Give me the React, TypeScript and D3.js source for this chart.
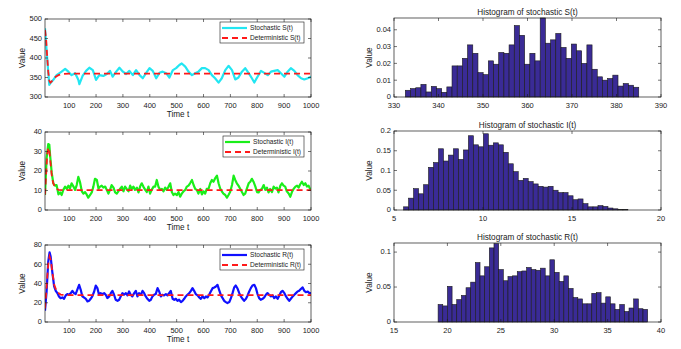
import * as d3 from "d3";

const W = 681;
const H = 349;
const FONT = "'Liberation Sans', Arial, Helvetica, sans-serif";

// ── Stochastic paths, [t, value] ───────────────────────────────
const S_STOCH: [number, number][] = [
  [10, 476], [18, 400], [26, 331], [33, 338], [41, 344], [53, 356], [72, 365], [85, 372],
  [97, 365], [109, 356], [122, 361], [130, 350], [134, 344], [138, 333], [150, 354], [163, 367],
  [175, 375], [188, 369], [200, 344], [212, 356], [227, 354], [240, 359], [252, 367], [262, 352],
  [275, 365], [287, 375], [300, 365], [312, 359], [324, 367], [337, 356], [349, 369], [362, 356],
  [374, 348], [386, 361], [399, 374], [411, 367], [424, 348], [436, 362], [448, 365], [461, 361],
  [473, 350], [486, 369], [498, 374], [510, 382], [519, 386], [532, 378], [544, 365], [557, 356],
  [569, 361], [581, 365], [594, 374], [606, 374], [619, 369], [631, 356], [643, 348], [656, 337],
  [668, 348], [681, 369], [693, 380], [706, 369], [718, 345], [730, 350], [743, 365], [755, 374],
  [768, 361], [780, 348], [789, 337], [801, 352], [814, 367], [826, 362], [839, 356], [851, 365],
  [863, 367], [876, 369], [888, 361], [901, 352], [913, 365], [925, 374], [938, 367], [950, 356],
  [963, 348], [975, 345], [988, 348], [1000, 352],
];

const I_STOCH: [number, number][] = [
  [10, 7.7], [16, 26.5], [22, 33.8], [26, 33.5], [29, 28], [35, 19], [41, 13.7], [47, 12.5],
  [53, 12.8], [60, 8], [66, 9], [72, 7.7], [78, 10.3], [85, 12], [91, 10.8], [97, 12.5],
  [103, 11], [109, 13.7], [116, 12], [122, 10.3], [128, 12.8], [134, 17], [140, 14.5], [147, 9.6],
  [153, 8.4], [159, 9.2], [165, 8], [171, 6.3], [178, 7.7], [184, 9], [190, 12], [196, 16],
  [203, 15.4], [209, 11], [215, 12], [221, 12.5], [227, 11.5], [234, 12], [240, 10.3], [246, 8.4],
  [252, 10.3], [258, 12.8], [265, 11.5], [271, 9], [277, 8.4], [283, 9.6], [289, 10.8], [296, 12],
  [302, 9.6], [308, 12], [314, 10.8], [321, 9.6], [327, 12.5], [333, 10.8], [339, 12], [345, 10.3],
  [352, 11.5], [358, 9], [364, 12], [370, 13.7], [376, 12], [383, 10.3], [389, 9.2], [395, 12],
  [401, 8.4], [407, 10.3], [414, 12], [420, 12], [426, 15.4], [432, 12], [439, 10.3], [445, 10.8],
  [451, 9.6], [457, 11.5], [463, 10.3], [470, 12], [476, 13.7], [482, 9.2], [488, 7.7], [494, 8.4],
  [501, 7.7], [507, 9.2], [513, 6.8], [519, 8.4], [526, 9.6], [532, 10.3], [538, 12], [544, 12.5],
  [550, 13.7], [557, 15.4], [563, 12.8], [569, 10.8], [575, 10.3], [581, 8.4], [588, 10.8], [594, 8],
  [600, 9.6], [606, 8.4], [612, 10.8], [619, 11], [625, 13.7], [631, 15.4], [637, 14.5], [643, 16.2],
  [650, 17.6], [656, 13.7], [662, 11], [668, 9.6], [674, 8.4], [681, 7.7], [687, 6.3], [693, 7.7],
  [699, 9.2], [706, 12.8], [712, 17.6], [718, 15.4], [724, 13.7], [730, 12.5], [737, 10.8], [743, 9.2],
  [749, 7.7], [755, 8.4], [761, 10.8], [768, 13.7], [774, 14.5], [780, 16], [786, 14.5], [793, 12],
  [799, 9.2], [805, 9], [811, 10.3], [817, 10.8], [824, 12.8], [830, 10.3], [836, 11.5], [842, 9],
  [848, 10.8], [855, 9.2], [861, 12], [867, 11], [873, 11.5], [879, 9], [886, 12.5], [892, 13.7],
  [898, 12.5], [904, 12], [910, 9.6], [917, 8.4], [923, 6.8], [929, 9.2], [935, 10.8], [942, 12],
  [948, 12.5], [954, 11.5], [960, 13.2], [966, 14.5], [973, 12.8], [979, 13.7], [985, 12], [991, 12.5],
  [998, 10.3],
];

const R_STOCH: [number, number][] = [
  [10, 11.7], [16, 31.7], [22, 62.8], [27, 72.4], [31, 68], [37, 52.4], [44, 36.9], [50, 32.4],
  [56, 30], [62, 26.6], [68, 24.8], [75, 25.5], [81, 24.1], [87, 27.6], [93, 29], [99, 28.3],
  [106, 30], [112, 32.4], [118, 30], [124, 29], [130, 33.4], [137, 38.6], [143, 33.4], [149, 26.6],
  [155, 25.5], [162, 24.1], [168, 21.4], [174, 22], [180, 24.1], [186, 26.6], [193, 31.7], [199, 37.9],
  [205, 35.2], [211, 28.3], [217, 30], [224, 29], [230, 30], [236, 28.3], [242, 24.8], [249, 26.6],
  [255, 30], [261, 32.4], [267, 28.3], [273, 23.1], [280, 22], [286, 23.1], [292, 26.6], [298, 30],
  [304, 28.3], [311, 30], [317, 27.6], [323, 31.7], [329, 28.3], [335, 26.6], [342, 30], [348, 32.4],
  [354, 26.6], [360, 30], [367, 28.3], [373, 32.4], [379, 30], [385, 26.6], [391, 24.1], [398, 22],
  [404, 23.1], [410, 26.6], [416, 28.3], [422, 29], [429, 35.2], [435, 31.7], [441, 26.6], [447, 28.3],
  [453, 27.6], [460, 29], [466, 27.6], [472, 30], [478, 32.4], [485, 24.1], [491, 23.1], [497, 24.1],
  [503, 22], [509, 23.1], [516, 20.7], [522, 22], [528, 24.1], [534, 26.6], [540, 28.3], [547, 30],
  [553, 32.4], [559, 35.2], [565, 32.4], [571, 29], [578, 27.6], [584, 25.5], [590, 24.1], [596, 26.6],
  [603, 24.8], [609, 26.6], [615, 25.5], [621, 28.3], [627, 31.7], [634, 35.2], [640, 35.9], [646, 36.9],
  [652, 38.6], [658, 33.4], [665, 27.6], [671, 24.8], [677, 22], [683, 20.7], [689, 19.7], [696, 20.7],
  [702, 24.8], [708, 30], [714, 35.9], [720, 37.9], [727, 34.5], [733, 30], [739, 26.6], [745, 24.1],
  [751, 22], [758, 24.1], [764, 27.6], [770, 31.7], [776, 35.2], [782, 37.9], [789, 38.6], [795, 35.2],
  [801, 29], [807, 24.8], [813, 23.1], [820, 24.1], [826, 25.5], [832, 28.3], [838, 30], [844, 28.3],
  [851, 26.6], [857, 27.6], [863, 24.8], [869, 26.6], [876, 24.1], [882, 27.6], [888, 31], [894, 32.4],
  [901, 30], [907, 26.6], [913, 24.1], [919, 22], [925, 24.1], [932, 26.6], [938, 28.3], [944, 30],
  [950, 31.7], [956, 32.4], [963, 34.5], [969, 35.9], [975, 32.4], [981, 31], [988, 31.7], [994, 30],
  [1000, 30],
];

// ── Deterministic paths ──────────────────────────────────────
const S_DET: [number, number][] = [
  [10, 472], [14, 450], [18, 405], [22, 365], [26, 342], [30, 337], [35, 340], [42, 347],
  [50, 352], [60, 356], [75, 359], [100, 360], [1000, 360],
];
const I_DET: [number, number][] = [
  [10, 8], [14, 18], [18, 28], [22, 32], [26, 31], [30, 25], [35, 18], [40, 14],
  [48, 11.5], [60, 10.3], [80, 10.2], [1000, 10.2],
];
const R_DET: [number, number][] = [
  [10, 14], [14, 28], [18, 45], [22, 60], [27, 68], [32, 64], [38, 50], [45, 38],
  [55, 31], [68, 28.5], [90, 28], [1000, 28],
];

// ── Histogram bar heights (probability) ─────────────────────
const S_HIST = [
  0.004, 0.005, 0.0055, 0.0075, 0.003, 0.0063, 0.005, 0.0028, 0.006, 0.0185,
  0.0185, 0.023, 0.031, 0.026, 0.0145, 0.0133, 0.0215, 0.0195, 0.0265, 0.026,
  0.031, 0.0425, 0.0367, 0.0195, 0.026, 0.0215, 0.047, 0.032, 0.034, 0.0378,
  0.0295, 0.023, 0.0315, 0.0275, 0.02, 0.031, 0.0165, 0.012, 0.01, 0.011,
  0.013, 0.0065, 0.008, 0.007, 0.0058,
];
const I_HIST = [
  0.008, 0.03, 0.054, 0.041, 0.064, 0.108, 0.12, 0.155, 0.124, 0.139,
  0.155, 0.128, 0.152, 0.188, 0.165, 0.16, 0.193, 0.164, 0.17, 0.165,
  0.146, 0.117, 0.097, 0.075, 0.08, 0.072, 0.066, 0.06, 0.058, 0.06,
  0.05, 0.044, 0.044, 0.036, 0.026, 0.028, 0.016, 0.008, 0.008, 0.011,
  0.009, 0.005, 0.003, 0.001, 0.001,
];
const R_HIST = [
  0.025, 0.023, 0.051, 0.025, 0.032, 0.038, 0.049, 0.057, 0.085, 0.066,
  0.079, 0.106, 0.112, 0.075, 0.059, 0.065, 0.066, 0.072, 0.073, 0.078,
  0.075, 0.074, 0.077, 0.066, 0.089, 0.071, 0.058, 0.066, 0.048, 0.035,
  0.033, 0.026, 0.026, 0.041, 0.042, 0.027, 0.036, 0.026, 0.018, 0.025,
  0.015, 0.02, 0.033, 0.019, 0.018,
];
// first / last bin edges
const S_EDGES = [332.55, 385.0];
const I_EDGES = [5.54, 18.14];
const R_EDGES = [19.13, 38.75];

// ── Ticks ─────────────────────────────────────────────────────
const T_TICKS = [100, 200, 300, 400, 500, 600, 700, 800, 900, 1000];
const S_TICKS = [300, 350, 400, 450, 500];
const I_TICKS = [0, 10, 20, 30, 40];
const R_TICKS = [0, 20, 40, 60, 80];
const SH_XTICKS = [330, 340, 350, 360, 370, 380, 390];
const SH_YTICKS = [0, 0.01, 0.02, 0.03, 0.04];
const IH_XTICKS = [5, 10, 15, 20];
const IH_YTICKS = [0, 0.05, 0.1, 0.15, 0.2];
const RH_XTICKS = [15, 20, 25, 30, 35, 40];
const RH_YTICKS = [0, 0.05, 0.1];

// ── Layout ────────────────────────────────────────────────────
const LX0 = 45, LX1 = 311;
const RX0 = 394, RX1 = 661;
const TICK = 3;
const INK = "#1a1a1a";
const RED = "#ff1a1a";
const BAR = "#3a2b96";

const fmt = (v: number) => String(+v.toFixed(3));

function Frame({ x0, x1, y0, y1, xs, ys, xTicks, yTicks }: any) {
  return (
    <g>
      <rect x={x0} y={y0} width={x1 - x0} height={y1 - y0} fill="none" stroke={INK} strokeWidth={0.7} />
      {xTicks.map((t: number) => (
        <g key={"x" + t}>
          <line x1={xs(t)} x2={xs(t)} y1={y1} y2={y1 - TICK} stroke={INK} strokeWidth={0.6} />
          <line x1={xs(t)} x2={xs(t)} y1={y0} y2={y0 + TICK} stroke={INK} strokeWidth={0.6} />
          <text x={xs(t)} y={y1 + 11} textAnchor="middle" fontSize={7.5} fill={INK}>{fmt(t)}</text>
        </g>
      ))}
      {yTicks.map((t: number) => (
        <g key={"y" + t}>
          <line x1={x0} x2={x0 + TICK} y1={ys(t)} y2={ys(t)} stroke={INK} strokeWidth={0.6} />
          <line x1={x1} x2={x1 - TICK} y1={ys(t)} y2={ys(t)} stroke={INK} strokeWidth={0.6} />
          <text x={x0 - 3} y={ys(t) + 2.4} textAnchor="end" fontSize={7.5} fill={INK}>{fmt(t)}</text>
        </g>
      ))}
    </g>
  );
}

function LinePanel({ y0, y1, yDomain, yTicks, stoch, det, color, name, lx0, ly0 }: any) {
  const xs = d3.scaleLinear().domain([10, 1000]).range([LX0, LX1]);
  const ys = d3.scaleLinear().domain(yDomain).range([y1, y0]);
  const line = d3.line<[number, number]>().x(d => xs(d[0])).y(d => ys(d[1]));
  const lx1 = 304;
  return (
    <g>
      <defs>
        <clipPath id={"clip" + name}>
          <rect x={LX0} y={y0} width={LX1 - LX0} height={y1 - y0} />
        </clipPath>
      </defs>
      <g clipPath={`url(#clip${name})`}>
        <path d={line(stoch) ?? ""} fill="none" stroke={color} strokeWidth={2.2} strokeLinejoin="round" />
        <path d={line(det) ?? ""} fill="none" stroke={RED} strokeWidth={1.8} strokeDasharray="6,4" />
      </g>
      <Frame x0={LX0} x1={LX1} y0={y0} y1={y1} xs={xs} ys={ys} xTicks={T_TICKS} yTicks={yTicks} />
      <text x={(LX0 + LX1) / 2} y={y1 + 20} textAnchor="middle" fontSize={8.2} fill={INK}>Time t</text>
      <text transform={`translate(25, ${(y0 + y1) / 2}) rotate(-90)`} textAnchor="middle" fontSize={8.2} fill={INK}>Value</text>
      {/* legend */}
      <g>
        <rect x={lx0} y={ly0} width={lx1 - lx0} height={21} fill="#fff" stroke={INK} strokeWidth={0.6} />
        <line x1={lx0 + 2} x2={lx0 + 27} y1={ly0 + 6} y2={ly0 + 6} stroke={color} strokeWidth={2.2} />
        <line x1={lx0 + 2} x2={lx0 + 27} y1={ly0 + 16} y2={ly0 + 16} stroke={RED} strokeWidth={1.8} strokeDasharray="6,4" />
        <text x={lx0 + 30} y={ly0 + 8.3} fontSize={6.6} fill={INK}>Stochastic {name}(t)</text>
        <text x={lx0 + 30} y={ly0 + 18.3} fontSize={6.6} fill={INK}>Deterministic {name}(t)</text>
      </g>
    </g>
  );
}

function HistPanel({ y0, y1, xDomain, xTicks, yMax, yTicks, heights, edges, title }: any) {
  const xs = d3.scaleLinear().domain(xDomain).range([RX0, RX1]);
  const ys = d3.scaleLinear().domain([0, yMax]).range([y1, y0]);
  const bw = (edges[1] - edges[0]) / heights.length;
  return (
    <g>
      {heights.map((h: number, i: number) => {
        const a = edges[0] + i * bw;
        return (
          <rect key={i} x={xs(a)} y={ys(h)} width={xs(a + bw) - xs(a)} height={ys(0) - ys(h)}
            fill={BAR} stroke={INK} strokeWidth={0.6} />
        );
      })}
      <Frame x0={RX0} x1={RX1} y0={y0} y1={y1} xs={xs} ys={ys} xTicks={xTicks} yTicks={yTicks} />
      <text x={(RX0 + RX1) / 2} y={y0 - 3} textAnchor="middle" fontSize={8.2} fill={INK}>{title}</text>
      <text transform={`translate(372, ${(y0 + y1) / 2}) rotate(-90)`} textAnchor="middle" fontSize={8.2} fill={INK}>Value</text>
    </g>
  );
}

export default function App() {
  return (
    <svg width={W} height={H} viewBox={`0 0 ${W} ${H}`}
      style={{ position: "absolute", left: 0, top: 0, background: "#fff", fontFamily: FONT }}>
      <rect width={W} height={H} fill="#fff" />

      <LinePanel y0={19} y1={97} yDomain={[300, 500]} yTicks={S_TICKS}
        stoch={S_STOCH} det={S_DET} color="#22e6f2" name="S" lx0={220} ly0={22} />
      <LinePanel y0={132} y1={210} yDomain={[0, 40]} yTicks={I_TICKS}
        stoch={I_STOCH} det={I_DET} color="#1aee1a" name="I" lx0={223} ly0={136} />
      <LinePanel y0={245} y1={322} yDomain={[0, 80]} yTicks={R_TICKS}
        stoch={R_STOCH} det={R_DET} color="#1010ff" name="R" lx0={220} ly0={249} />

      <HistPanel y0={18} y1={97} xDomain={[330, 390]} xTicks={SH_XTICKS} yMax={0.047} yTicks={SH_YTICKS}
        heights={S_HIST} edges={S_EDGES} title="Histogram of stochastic S(t)" />
      <HistPanel y0={131} y1={210} xDomain={[5, 20]} xTicks={IH_XTICKS} yMax={0.2} yTicks={IH_YTICKS}
        heights={I_HIST} edges={I_EDGES} title="Histogram of stochastic I(t)" />
      <HistPanel y0={243} y1={322} xDomain={[15, 40]} xTicks={RH_XTICKS} yMax={0.113} yTicks={RH_YTICKS}
        heights={R_HIST} edges={R_EDGES} title="Histogram of stochastic R(t)" />
    </svg>
  );
}
